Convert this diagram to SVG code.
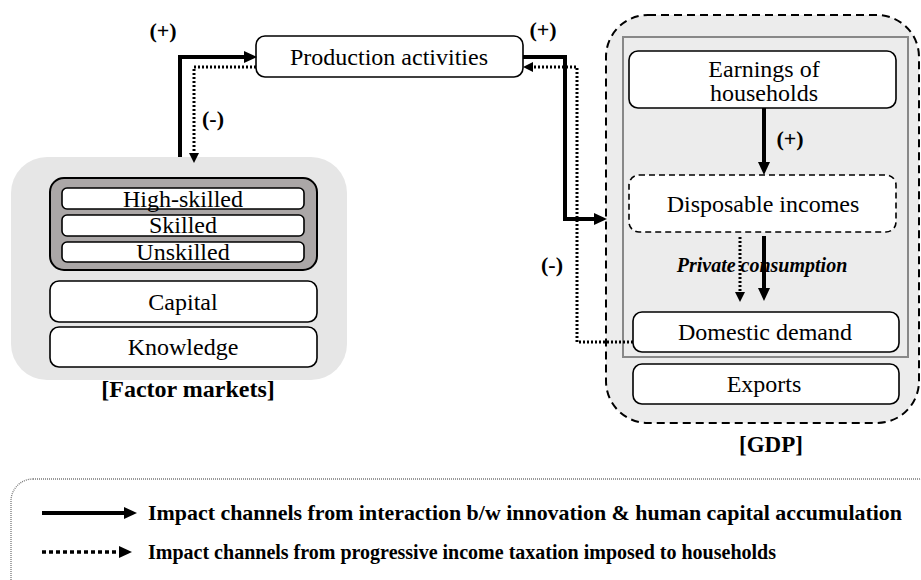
<svg xmlns="http://www.w3.org/2000/svg" width="921" height="580" viewBox="0 0 921 580">
<style>
.t{font-size:24px;fill:#000;text-anchor:middle}
.b{font-weight:bold;fill:#000;text-anchor:middle}
.lg{font-weight:bold;fill:#000;font-size:21px}
.box{fill:#fff;stroke:#000;stroke-width:1.6}
.thick{fill:none;stroke:#000;stroke-width:4}
.dot{fill:none;stroke:#000;stroke-width:3;stroke-dasharray:2 2}
</style>
<defs>
<marker id="ah" markerUnits="userSpaceOnUse" markerWidth="13" markerHeight="12" refX="0" refY="6" orient="auto"><path d="M0,0 L13,6 L0,12 z" fill="#000"/></marker>
<marker id="ad" markerUnits="userSpaceOnUse" markerWidth="10" markerHeight="10" refX="0" refY="5" orient="auto"><path d="M0,0 L10,5 L0,10 z" fill="#000"/></marker>
</defs>

<g id="factor-markets">
<rect x="11" y="157" width="336" height="223" rx="36" fill="#e6e6e6"/>
<text class="b" font-family="Liberation Serif" x="188" y="397" font-size="24">[Factor markets]</text>
</g>
<g id="labor">
<rect x="50" y="178" width="267" height="92" rx="14" fill="#aba7a7" stroke="#000" stroke-width="2"/>
</g>
<g id="high-skilled"><rect class="box" x="62" y="188" width="242" height="21" rx="5"/><text class="t" font-family="Liberation Serif" x="183" y="207">High-skilled</text></g>
<g id="skilled"><rect class="box" x="62" y="215" width="242" height="21" rx="5"/><text class="t" font-family="Liberation Serif" x="183" y="233">Skilled</text></g>
<g id="unskilled"><rect class="box" x="62" y="242" width="242" height="20" rx="5"/><text class="t" font-family="Liberation Serif" x="183" y="260">Unskilled</text></g>
<g id="capital"><rect class="box" x="50" y="281" width="267" height="41" rx="9"/><text class="t" font-family="Liberation Serif" x="183" y="310">Capital</text></g>
<g id="knowledge"><rect class="box" x="50" y="327" width="267" height="40" rx="9"/><text class="t" font-family="Liberation Serif" x="183" y="355">Knowledge</text></g>

<g id="production"><rect class="box" x="256" y="36" width="267" height="41" rx="9"/><text class="t" font-family="Liberation Serif" x="389" y="65">Production activities</text></g>

<g id="gdp">
<rect x="606" y="15" width="313" height="408" rx="42" fill="#ececec" stroke="#000" stroke-width="2" stroke-dasharray="8 5"/>
<rect x="623" y="37" width="285" height="320" fill="none" stroke="#888" stroke-width="2"/>
<text class="b" font-family="Liberation Serif" x="771" y="452" font-size="23">[GDP]</text>
</g>
<g id="earnings"><rect class="box" x="629" y="51" width="267" height="57" rx="9"/><text class="t" font-family="Liberation Serif" x="764" y="77">Earnings of</text><text class="t" font-family="Liberation Serif" x="764" y="101">households</text></g>
<g id="disposable"><rect x="629" y="175" width="267" height="57" rx="10" fill="#fff" stroke="#000" stroke-width="1.6" stroke-dasharray="6 4"/><text class="t" font-family="Liberation Serif" x="763" y="212">Disposable incomes</text></g>
<g id="domestic"><rect class="box" x="633" y="312" width="266" height="40" rx="9"/><text class="t" font-family="Liberation Serif" x="765" y="340">Domestic demand</text></g>
<g id="exports"><rect class="box" x="633" y="364" width="266" height="40" rx="9"/><text class="t" font-family="Liberation Serif" x="764" y="392">Exports</text></g>

<g id="connectors">
<path class="thick" d="M180,157 V57 H244" marker-end="url(#ah)"/>
<path class="dot" d="M256,67 H194 V153" marker-end="url(#ad)"/>
<path class="thick" d="M523,57 H565 V219 H594" marker-end="url(#ah)"/>
<path class="dot" d="M633,342 H577 V67 H533" marker-end="url(#ad)"/>
<path class="thick" d="M764,108 V162" marker-end="url(#ah)"/>
<path class="dot" d="M740,237 V292" marker-end="url(#ad)"/>
<path class="thick" d="M764,236 V288" marker-end="url(#ah)"/>
<text class="b" font-family="Liberation Serif" x="163" y="38" font-size="22">(+)</text>
<text class="b" font-family="Liberation Serif" x="213" y="126" font-size="22">(-)</text>
<text class="b" font-family="Liberation Serif" x="543" y="37" font-size="22">(+)</text>
<text class="b" font-family="Liberation Serif" x="790" y="146" font-size="22">(+)</text>
<text class="b" font-family="Liberation Serif" x="552" y="272" font-size="22">(-)</text>
<text class="b" font-family="Liberation Serif" x="762" y="272" font-size="20" font-style="italic">Private consumption</text>
</g>

<g id="legend">
<rect x="11" y="479" width="930" height="130" rx="22" fill="none" stroke="#777" stroke-width="1.3" stroke-dasharray="1 1"/>
<path class="thick" d="M42,513 H124" marker-end="url(#ah)"/>
<path d="M42,552 H119" fill="none" stroke="#000" stroke-width="3.5" stroke-dasharray="4 3" marker-end="url(#ah)"/>
<text class="lg" font-family="Liberation Serif" x="148" y="520" textLength="754" lengthAdjust="spacingAndGlyphs">Impact channels from interaction b/w innovation &amp; human capital accumulation</text>
<text class="lg" font-family="Liberation Serif" x="148" y="559" textLength="628" lengthAdjust="spacingAndGlyphs">Impact channels from progressive income taxation imposed to households</text>
</g>
</svg>
